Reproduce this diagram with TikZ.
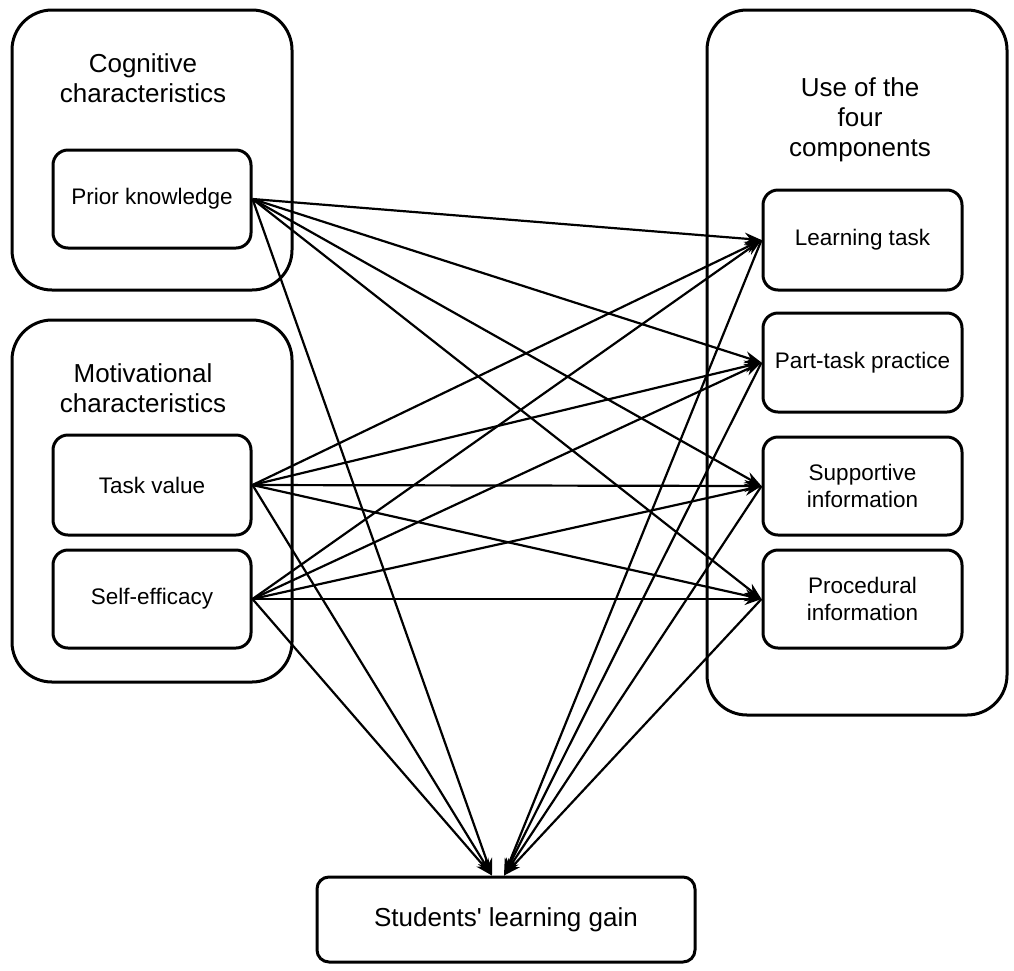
\documentclass[tikz,border=0pt]{standalone}
\usepackage{fontspec}
\setmainfont{Liberation Sans}
\usetikzlibrary{arrows.meta}

\begin{document}
\begin{tikzpicture}[x=1pt, y=-1pt, >={Stealth[length=17pt, width=12pt]}]
  \tikzset{
    outerbox/.style={draw, line width=3pt, rounded corners=40pt, inner sep=0pt},
    innerbox/.style={draw, line width=3pt, rounded corners=15pt, fill=white, inner sep=0pt,
      align=center, font=\fontsize{22.5}{27}\selectfont},
    boxtitle/.style={align=center, font=\fontsize{26}{30}\selectfont},
    link/.style={->, line width=2.2pt}
  }
  \useasboundingbox (0,0) rectangle (1014,970);

  % Groups
  \node[outerbox, minimum width=280pt, minimum height=280pt] (cog) at (152,150) {};
  \node[outerbox, minimum width=280pt, minimum height=362pt] (mot) at (152,501) {};
  \node[outerbox, minimum width=300pt, minimum height=705pt] (comp) at (857,362.5) {};
  \node[boxtitle] (cogtitle) at (143,78) {Cognitive\\characteristics};
  \node[boxtitle] (mottitle) at (143,388) {Motivational\\characteristics};
  \node[boxtitle] (comptitle) at (860,120) {Use of the\\four\\components};

  % Learner characteristics
  \node[innerbox, minimum width=198pt, minimum height=98pt] (pk) at (152,199) {Prior knowledge};
  \node[innerbox, minimum width=198pt, minimum height=100pt] (tv) at (152,485) {Task value};
  \node[innerbox, minimum width=198pt, minimum height=98pt] (se) at (152,599) {Self-efficacy};

  % Four components
  \node[innerbox, minimum width=199pt, minimum height=100pt] (lt) at (862.5,240) {Learning task};
  \node[innerbox, minimum width=199pt, minimum height=99pt] (pt) at (862.5,362.5) {Part-task practice};
  \node[innerbox, minimum width=199pt, minimum height=98pt] (si) at (862.5,486) {Supportive\\information};
  \node[innerbox, minimum width=199pt, minimum height=98pt] (pi) at (862.5,599) {Procedural\\information};

  % Outcome
  \node[innerbox, rounded corners=12pt, minimum width=378pt, minimum height=85pt,
    font=\fontsize{26}{30}\selectfont] (gain) at (506,919.5) {Students\textquotesingle{} learning gain};

  % Paths
  \foreach \src in {pk, tv, se} {
    \foreach \dst in {lt, pt, si, pi}
      \draw[link] (\src.east) -- (\dst.west);
    \draw[link] (\src.east) -- ([xshift=-14pt]gain.north);
  }
  \foreach \src in {lt, pt, si, pi}
    \draw[link] (\src.west) -- ([xshift=-2pt]gain.north);
\end{tikzpicture}
\end{document}
